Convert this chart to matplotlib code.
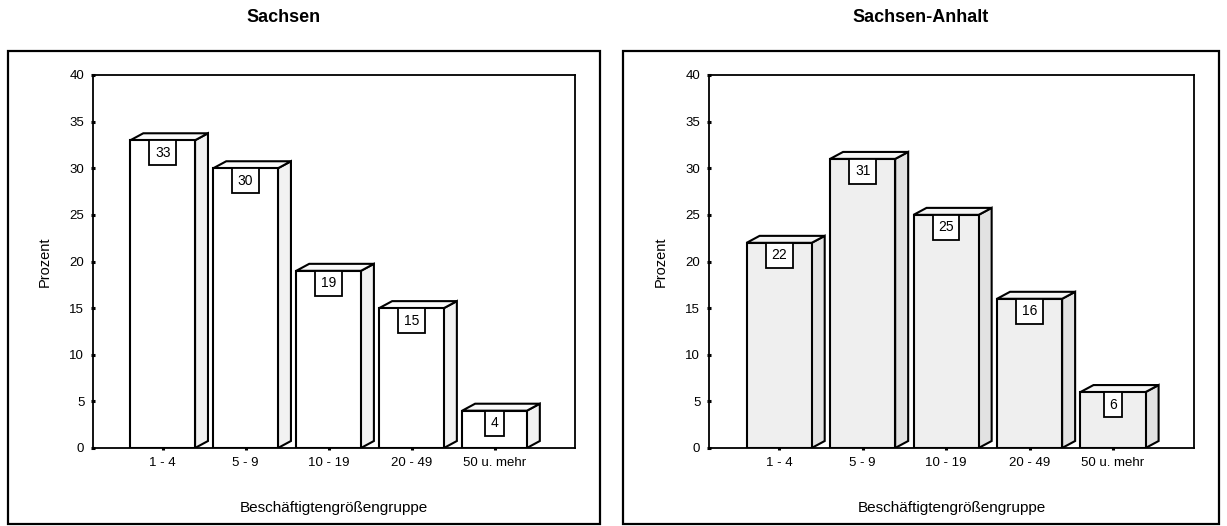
import matplotlib
matplotlib.use("Agg")
import matplotlib.pyplot as plt
from matplotlib.patches import Polygon, Rectangle

plt.rcParams['font.family'] = ['Liberation Sans', 'DejaVu Sans']

categories = ["1 - 4", "5 - 9", "10 - 19", "20 - 49", "50 u. mehr"]
sachsen = [33, 30, 19, 15, 4]
sachsen_anhalt = [22, 31, 25, 16, 6]
y_ticks = [0, 5, 10, 15, 20, 25, 30, 35, 40]

W, H = 1227, 526
fig = plt.figure(figsize=(W / 100, H / 100), dpi=100)


def px_rect(x0, y0, x1, y1):
    """Figure-fraction [left, bottom, width, height] from pixel box (top-left origin)."""
    return [x0 / W, (H - y1) / H, (x1 - x0) / W, (y1 - y0) / H]


BAR_W = 0.78
DEPTH_X = 0.156     # depth of the box in x units
DEPTH_Y = 0.75      # depth of the box in y units


def draw_panel(ax, values, front_col, side_col, top_col):
    ax.set_xlim(-0.84, 4.97)
    ax.set_ylim(0, 40)
    for i, v in enumerate(values):
        x0, x1 = i - BAR_W / 2, i + BAR_W / 2
        # side face
        ax.add_patch(Polygon([(x1, 0), (x1 + DEPTH_X, DEPTH_Y),
                              (x1 + DEPTH_X, v + DEPTH_Y), (x1, v)],
                             closed=True, facecolor=side_col, edgecolor='black',
                             linewidth=1.5, zorder=2))
        # top face
        ax.add_patch(Polygon([(x0, v), (x0 + DEPTH_X, v + DEPTH_Y),
                              (x1 + DEPTH_X, v + DEPTH_Y), (x1, v)],
                             closed=True, facecolor=top_col, edgecolor='black',
                             linewidth=1.5, zorder=2))
    ax.bar(range(len(values)), values, width=BAR_W, color=front_col,
           edgecolor='black', linewidth=1.5, zorder=3)
    for i, v in enumerate(values):
        ax.annotate(str(v), xy=(i, v), xytext=(0, -4.0), textcoords='offset points',
                    ha='center', va='top', fontsize=10, zorder=5,
                    bbox=dict(boxstyle='square,pad=0.4', facecolor='white',
                              edgecolor='black', linewidth=1.3))
    ax.set_xticks(range(len(categories)))
    ax.set_xticklabels(categories, fontsize=9.5)
    ax.set_yticks(y_ticks)
    ax.set_yticklabels([str(t) for t in y_ticks], fontsize=9.5)
    ax.tick_params(axis='both', length=2.5, width=2.2, direction='inout', pad=5)
    for s in ax.spines.values():
        s.set_linewidth(1.3)
    ax.set_ylabel("Prozent", fontsize=10.5, labelpad=13)
    ax.set_xlabel("Beschäftigtengrößengruppe", fontsize=11, labelpad=23)


# outer frames
for (x0, y0, x1, y1) in [(8, 51, 600, 524), (623, 51, 1219, 524)]:
    fig.add_artist(Rectangle((x0 / W, (H - y1) / H), (x1 - x0) / W, (y1 - y0) / H,
                             transform=fig.transFigure, fill=False,
                             edgecolor='black', linewidth=1.6))

ax1 = fig.add_axes(px_rect(93, 75, 575, 448))
draw_panel(ax1, sachsen, 'white', '#f2f2f2', '#fafafa')
ax2 = fig.add_axes(px_rect(709, 75, 1194, 448))
draw_panel(ax2, sachsen_anhalt, '#efefef', '#e2e2e2', '#f4f4f4')

fig.text(284 / W, 1 - 18 / H, "Sachsen", ha='center', va='center',
         fontsize=13, fontweight='bold')
fig.text(921 / W, 1 - 18 / H, "Sachsen-Anhalt", ha='center', va='center',
         fontsize=13, fontweight='bold')

fig.savefig("out.png", dpi=100)
